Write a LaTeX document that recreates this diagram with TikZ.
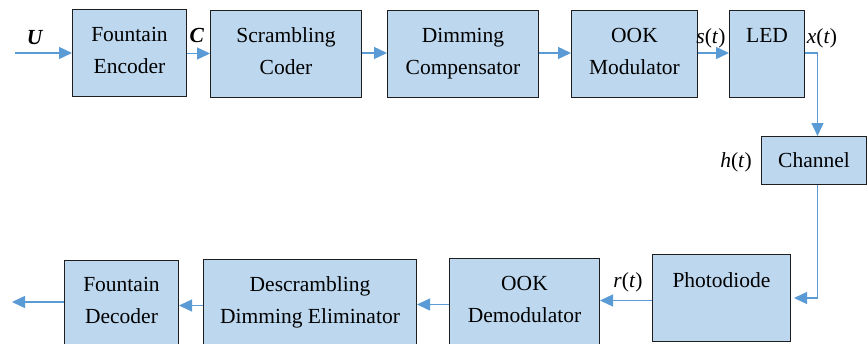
\documentclass[tikz,border=0pt]{standalone}
\usepackage{fontspec}
\setmainfont{Liberation Serif}
\usetikzlibrary{arrows.meta}
\definecolor{boxblue}{RGB}{189,215,238}
\definecolor{arrblue}{RGB}{91,155,213}
\definecolor{edge}{RGB}{30,30,30}
\tikzset{
  box/.style={draw=edge, line width=1pt, fill=boxblue, inner sep=0pt, anchor=north west},
  txt/.style={anchor=base, align=center, inner sep=0pt, font=\fontsize{21.5}{32}\selectfont},
  lbl/.style={anchor=base, inner sep=0pt, font=\fontsize{21.5}{26}\selectfont},
  arr/.style={draw=arrblue, line width=1.4pt, -{Triangle[length=13pt,width=12pt]}}
}
\begin{document}
\begin{tikzpicture}[x=1pt,y=-1pt]
\path[use as bounding box] (0,0) rectangle (867,343);
\clip (0,0) rectangle (867,343);
% top row
\node[box, minimum width=114pt, minimum height=87pt] (fe) at (72,9) {};
\node[box, minimum width=151pt, minimum height=87pt] (sc) at (210,10) {};
\node[box, minimum width=151pt, minimum height=87pt] (dc) at (387,10) {};
\node[box, minimum width=126pt, minimum height=87pt] (om) at (571,10) {};
\node[box, minimum width=75pt, minimum height=87pt] (led) at (729,10) {};
\node[box, minimum width=105pt, minimum height=48pt] (ch) at (761,136) {};
% bottom row
\node[box, minimum width=138pt, minimum height=87pt] (pd) at (652,254) {};
\node[box, minimum width=150pt, minimum height=90pt] (od) at (449,258) {};
\node[box, minimum width=213pt, minimum height=90pt] (dd) at (203,259) {};
\node[box, minimum width=114pt, minimum height=90pt] (fd) at (64,260) {};
% texts (base anchor = baseline of the last line)
\node[txt] (tfe) at ([yshift=-64pt]fe.north) {Fountain\\Encoder};
\node[txt] (tsc) at ([yshift=-64pt]sc.north) {Scrambling\\Coder};
\node[txt] (tdc) at ([yshift=-64pt]dc.north) {Dimming\\Compensator};
\node[txt] (tom) at ([yshift=-64pt]om.north) {OOK\\Modulator};
\node[txt] (tled) at ([yshift=-32pt]led.north) {LED};
\node[txt] (tch) at ([yshift=-31pt]ch.north) {Channel};
\node[txt] (tpd) at ([yshift=-33pt]pd.north) {Photodiode};
\node[txt] (tod) at ([yshift=-64pt]od.north) {OOK\\Demodulator};
\node[txt] (tdd) at ([yshift=-64pt]dd.north) {Descrambling\\Dimming Eliminator};
\node[txt] (tfd) at ([yshift=-63pt]fd.north) {Fountain\\Decoder};
% labels
\node[lbl] (lu) at (35,44) {\textbf{\textit{U}}};
\node[lbl] (lc) at (197,42) {\textbf{\textit{C}}};
\node[lbl] (ls) at (711,43) {\textit{s}(\textit{t})};
\node[lbl] (lx) at (822,43) {\textit{x}(\textit{t})};
\node[lbl] (lh) at (736,167) {\textit{h}(\textit{t})};
\node[lbl] (lr) at (628,287) {\textit{r}(\textit{t})};
% connectors
\coordinate (in) at (15,53);
\coordinate (out) at (12,302);
\draw[arr] (in) -- (in -| fe.west);
\draw[arr] ([yshift=-0.5pt]fe.east) -- ([yshift=-0.5pt]fe.east -| sc.west);
\draw[arr] ([yshift=1pt]sc.east) -- ([yshift=1pt]sc.east -| dc.west);
\draw[arr] ([yshift=1pt]dc.east) -- ([yshift=1pt]dc.east -| om.west);
\draw[arr] ([yshift=1pt]om.east) -- ([yshift=1pt]om.east -| led.west);
\draw[arr] ([yshift=1pt]led.east) -| ([xshift=3.5pt]ch.north);
\draw[arr] ([xshift=3.5pt]ch.south) |- ([xshift=3pt]pd.east);
\draw[arr] ([yshift=-2.5pt]pd.west) -- ([yshift=-2.5pt]pd.west -| od.east);
\draw[arr] ([yshift=-1pt]od.west) -- ([yshift=-1pt]od.west -| dd.east);
\draw[arr] ([yshift=-1pt]dd.west) -- ([yshift=-1pt]dd.west -| fd.east);
\draw[arr] (fd.west |- out) -- (out);
\end{tikzpicture}
\end{document}
